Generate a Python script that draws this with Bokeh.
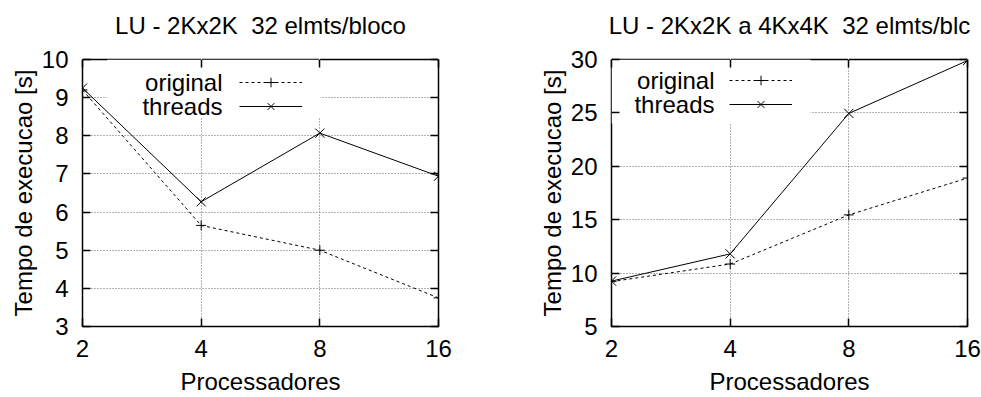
from bokeh.plotting import figure
from bokeh.models import (Range1d, FixedTicker, LinearAxis, Legend, LegendItem,
                          Label, BoxAnnotation, CustomJSTickFormatter, Title)
from bokeh.layouts import row
from bokeh.embed import file_html
from bokeh.resources import INLINE

# ---- data ----
procs = [2, 4, 8, 16]
x_tick_labels = ["2", "4", "8", "16"]
series_names = ["original", "threads"]

left_original = [9.2, 5.65, 5.0, 3.75]
left_threads = [9.25, 6.27, 8.07, 6.94]
left_yticks = [3, 4, 5, 6, 7, 8, 9, 10]

right_original = [9.2, 10.85, 15.45, 18.9]
right_threads = [9.25, 11.8, 24.95, 29.9]
right_yticks = [5, 10, 15, 20, 25, 30]

titles = ["LU - 2Kx2K \u00a032 elmts/bloco", "LU - 2Kx2K a 4Kx4K \u00a032 elmts/blc"]
x_label = "Processadores"
y_label = "Tempo de execucao [s]"

FONT = "Liberation Sans"
FS = "24px"


def blank_fmt():
    return CustomJSTickFormatter(code="return ''")


def make_panel(title, orig, thr, yticks, width, bl, br, leg_text_x, leg_glyph_x,
               leg_rows_y, box):
    p = figure(width=width, height=397, x_axis_type="log",
               x_range=Range1d(procs[0], procs[-1]),
               y_range=Range1d(yticks[0], yticks[-1]),
               output_backend="svg", toolbar_location=None, title=None,
               min_border_left=bl, min_border_right=br,
               min_border_top=59, min_border_bottom=71)
    p.background_fill_color = "white"
    p.border_fill_color = "white"
    p.outline_line_color = "black"
    p.outline_line_width = 1.5

    xt = FixedTicker(ticks=procs)
    yt = FixedTicker(ticks=yticks)

    for ax in p.xaxis:
        ax.ticker = xt
        ax.major_label_overrides = {v: s for v, s in zip(procs, x_tick_labels)}
        ax.major_label_standoff = 13
        ax.axis_label = x_label
        ax.axis_label_standoff = 8
    for ax in p.yaxis:
        ax.ticker = yt
        ax.major_label_standoff = 14
        ax.axis_label = y_label
        ax.axis_label_standoff = 2
    for ax in list(p.xaxis) + list(p.yaxis):
        ax.axis_line_color = None
        ax.major_tick_in = 8
        ax.major_tick_out = 0
        ax.major_tick_line_width = 1.5
        ax.major_tick_line_color = "black"
        ax.minor_tick_line_color = None
        ax.major_label_text_font = FONT
        ax.major_label_text_font_size = FS
        ax.major_label_text_color = "black"
        ax.axis_label_text_font = FONT
        ax.axis_label_text_font_size = FS
        ax.axis_label_text_font_style = "normal"
        ax.axis_label_text_color = "black"

    # mirrored ticks on top and right
    for side, tk in (("above", xt), ("right", yt)):
        ax = LinearAxis(ticker=tk, formatter=blank_fmt(), axis_line_color=None,
                        major_tick_in=8, major_tick_out=0, major_tick_line_width=1.5,
                        major_tick_line_color="black", minor_tick_line_color=None,
                        major_label_standoff=0, major_label_text_font_size="0px")
        p.add_layout(ax, side)

    # invisible spacer between frame and title
    p.add_layout(LinearAxis(ticker=xt, formatter=blank_fmt(), axis_line_color=None,
                            major_tick_in=0, major_tick_out=11,
                            major_tick_line_color="white", major_tick_line_width=1,
                            minor_tick_line_color=None, major_label_standoff=0,
                            major_label_text_font_size="0px"), "above")

    p.add_layout(Title(text=title, align="center", text_font=FONT,
                       text_font_size=FS, text_font_style="normal",
                       text_color="black", standoff=19), "above")

    for g in (p.xgrid[0], p.ygrid[0]):
        g.grid_line_color = "#666666"
        g.grid_line_dash = "1 2"
        g.grid_line_width = 1
    p.xgrid[0].ticker = xt
    p.ygrid[0].ticker = yt

    # opaque key area hiding the grid
    p.add_layout(BoxAnnotation(left=box[0], right=box[1], bottom=box[2], top=box[3],
                               fill_color="white", fill_alpha=1.0, line_color=None,
                               level="underlay"))

    l1 = p.line(procs, orig, line_color="black", line_width=1, line_dash="3 3")
    s1 = p.scatter(procs, orig, marker="cross", size=10, line_color="black",
                   line_width=1)
    l2 = p.line(procs, thr, line_color="black", line_width=1)
    s2 = p.scatter(procs, thr, marker="x", size=13, line_color="black",
                   line_width=1)

    leg = Legend(items=[LegendItem(label=" ", renderers=[l1, s1]),
                        LegendItem(label=" ", renderers=[l2, s2])],
                 location=(leg_glyph_x, leg_rows_y[1] - 12),
                 glyph_width=63, glyph_height=24, spacing=0, padding=0, margin=0,
                 label_standoff=0, label_width=0, label_height=0,
                 label_text_font_size="1px",
                 background_fill_alpha=0, border_line_color=None)
    p.add_layout(leg)

    for name, yy in zip(series_names, leg_rows_y):
        p.add_layout(Label(x=leg_text_x, y=yy, x_units="screen", y_units="screen",
                           text=name, text_align="right", text_baseline="middle",
                           text_font=FONT, text_font_size=FS, text_color="black"))
    return p


p1 = make_panel(titles[0], left_original, left_threads, left_yticks,
                width=490, bl=82, br=52, leg_text_x=140, leg_glyph_x=157,
                leg_rows_y=(244, 220), box=(2.31, 8.03, 8.48, 10))
p2 = make_panel(titles[1], right_original, right_threads, right_yticks,
                width=491, bl=121, br=14, leg_text_x=103, leg_glyph_x=118,
                leg_rows_y=(246, 222), box=(2, 6.4, 24.0, 30))

layout = row(p1, p2)
open("out.html", "w").write(file_html(layout, INLINE))
